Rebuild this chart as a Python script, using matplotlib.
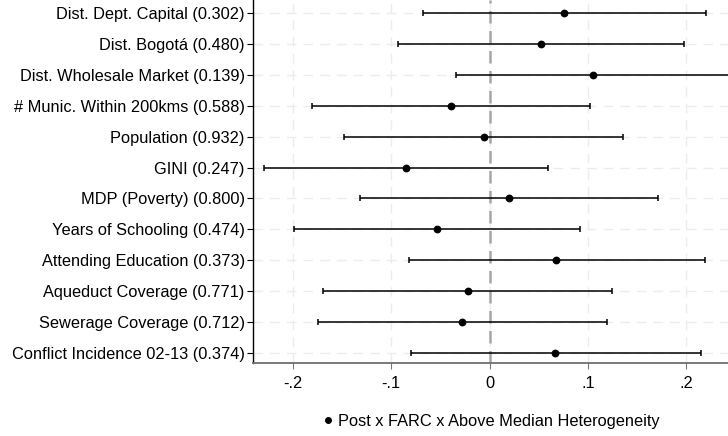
import numpy as np
import matplotlib.pyplot as plt
from matplotlib.lines import Line2D

plt.rcParams['font.family'] = ['Liberation Sans', 'DejaVu Sans']

labels = ["Dist. Dept. Capital (0.302)", "Dist. Bogotá (0.480)", "Dist. Wholesale Market (0.139)",
          "# Munic. Within 200kms (0.588)", "Population (0.932)", "GINI (0.247)",
          "MDP (Poverty) (0.800)", "Years of Schooling (0.474)", "Attending Education (0.373)",
          "Aqueduct Coverage (0.771)", "Sewerage Coverage (0.712)", "Conflict Incidence 02-13 (0.374)"]
coef = [0.076, 0.052, 0.105, -0.039, -0.006, -0.085, 0.020, -0.053, 0.068, -0.022, -0.028, 0.067]
ci_lo = [-0.068, -0.093, -0.034, -0.180, -0.148, -0.229, -0.132, -0.199, -0.082, -0.169, -0.174, -0.080]
ci_hi = [0.220, 0.198, 0.244, 0.102, 0.136, 0.059, 0.171, 0.092, 0.219, 0.125, 0.119, 0.215]
xticks = [-0.2, -0.1, 0, 0.1, 0.2]
xticklabels = ["-.2", "-.1", "0", ".1", ".2"]


def main():
    fig = plt.figure(figsize=(7.28, 4.36), dpi=100)
    ax = fig.add_axes([253 / 728, (436 - 363) / 436, 1 - 253 / 728, 363 / 436])

    y = np.arange(1, len(labels) + 1)
    coef_a = np.array(coef)
    err = [coef_a - np.array(ci_lo), np.array(ci_hi) - coef_a]

    for v in xticks:
        ax.axvline(v, color="#ececec", lw=1, ls=(0, (7, 5)), zorder=0)
    for yy in y:
        ax.axhline(yy, color="#ececec", lw=1, ls=(0, (7, 5)), zorder=0)
    ax.axvline(0, color="#a6a6a6", lw=1.8, ls=(0, (5, 3)), zorder=1)

    ax.errorbar(coef_a, y, xerr=err, fmt="o", color="black", ms=4.6, lw=1.1,
                capsize=2, capthick=1.1, zorder=3)

    ax.set_xlim(-0.2405, 0.2425)
    ax.set_ylim(12.34, 1 - 13.5 / 30.9)
    ax.set_yticks(y)
    ax.set_yticklabels(labels, fontsize=11.8)
    ax.set_xticks(xticks)
    ax.set_xticklabels(xticklabels, fontsize=11.8)
    ax.tick_params(axis="y", length=4, width=0.8, pad=2)
    ax.tick_params(axis="x", length=4, width=0.8, color="#777777", pad=5)

    for s in ["top", "right"]:
        ax.spines[s].set_visible(False)
    ax.spines["left"].set_color("black")
    ax.spines["left"].set_linewidth(1)
    ax.spines["bottom"].set_color("#6e6e6e")
    ax.spines["bottom"].set_linewidth(1.3)

    handle = Line2D([], [], marker="o", ls="none", color="black", ms=4)
    fig.legend([handle], ["Post x FARC x Above Median Heterogeneity"], loc="center",
               bbox_to_anchor=(490 / 728, 1 - 421.5 / 436), frameon=False,
               fontsize=11.8, handletextpad=0.1, handlelength=1.0)

    fig.savefig("out.png", dpi=100)


if __name__ == "__main__":
    main()
